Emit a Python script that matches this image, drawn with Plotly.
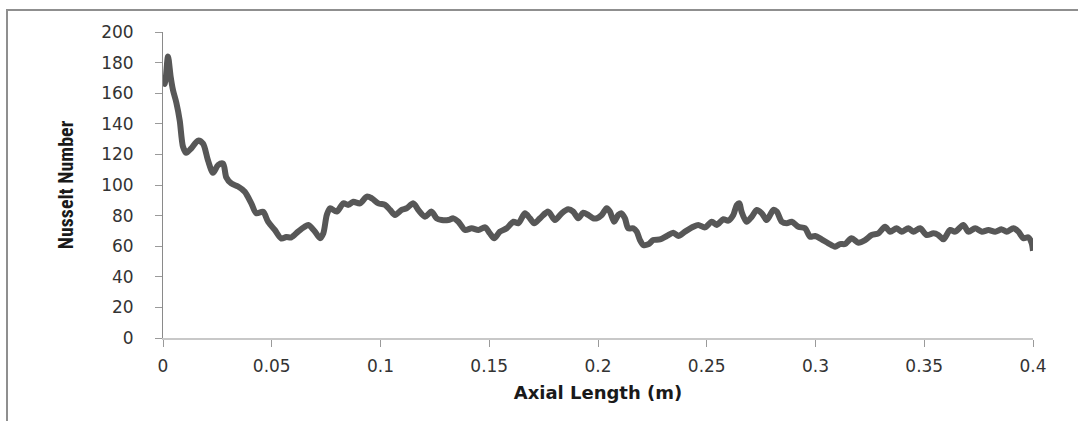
import plotly.graph_objects as go

# Axial position (m) and Nusselt number
axial_length = [
    0.0, 0.0008, 0.0023, 0.0035, 0.0046, 0.0061, 0.0077, 0.0092, 0.0107, 0.0130,
    0.0161, 0.0184, 0.0207, 0.0230, 0.0253, 0.0276, 0.0291, 0.0314, 0.0345, 0.0376,
    0.0406, 0.0429, 0.0460, 0.0483, 0.0514, 0.0544, 0.0567, 0.0590, 0.0621, 0.0651,
    0.0668, 0.0699, 0.0722, 0.0737, 0.0753, 0.0768, 0.0799, 0.0829, 0.0852, 0.0875,
    0.0906, 0.0937, 0.0960, 0.0990, 0.1021, 0.1044, 0.1067, 0.1097, 0.1120, 0.1151,
    0.1174, 0.1205, 0.1235, 0.1258, 0.1281, 0.1312, 0.1335, 0.1358, 0.1389, 0.1419,
    0.1450, 0.1481, 0.1503, 0.1523, 0.1549, 0.1580, 0.1611, 0.1634, 0.1664, 0.1687,
    0.1707, 0.1733, 0.1771, 0.1802, 0.1833, 0.1863, 0.1886, 0.1909, 0.1932, 0.1955,
    0.1978, 0.1994, 0.2017, 0.2040, 0.2055, 0.2074, 0.2093, 0.2108, 0.2124, 0.2139,
    0.2162, 0.2178, 0.2193, 0.2208, 0.2231, 0.2254, 0.2285, 0.2316, 0.2346, 0.2369,
    0.2400, 0.2438, 0.2461, 0.2492, 0.2523, 0.2546, 0.2576, 0.2599, 0.2622, 0.2638,
    0.2650, 0.2660, 0.2683, 0.2707, 0.2730, 0.2753, 0.2776, 0.2806, 0.2822, 0.2845,
    0.2868, 0.2891, 0.2921, 0.2952, 0.2975, 0.2998, 0.3028, 0.3059, 0.3090, 0.3113,
    0.3136, 0.3166, 0.3197, 0.3228, 0.3258, 0.3289, 0.3320, 0.3343, 0.3373, 0.3396,
    0.3427, 0.3450, 0.3481, 0.3511, 0.3542, 0.3565, 0.3588, 0.3619, 0.3642, 0.3680,
    0.3703, 0.3734, 0.3765, 0.3795, 0.3826, 0.3857, 0.3879, 0.3910, 0.3933, 0.3956,
    0.3979, 0.3994, 0.4000,
]
nusselt_number = [
    168, 166, 184, 171, 162, 154, 142, 125, 121, 124,
    129, 127, 116, 108, 113, 114, 105, 101, 99, 95.6,
    88, 81.5, 82.5, 76, 70.6, 65, 66, 65.8, 69.5, 72.7,
    73.9, 69.5, 65.2, 68.4, 80.4, 84.8, 82.6, 88, 87, 89,
    88, 92.4, 91.3, 88, 87, 83.7, 80.4, 83.7, 84.8, 88,
    83.7, 79.3, 82.6, 78.2, 77.1, 77.1, 78.2, 76, 70.6, 71.7,
    70.6, 72.3, 68.4, 65.2, 69.5, 71.7, 76, 75, 81.5, 78.2,
    75, 78.2, 82.6, 77.1, 81.5, 84.1, 82.6, 78.2, 81.9, 80.4,
    78.2, 78.2, 80.4, 84.8, 82.6, 76, 80.4, 81.5, 78.2, 71.7,
    71.7, 69.5, 64, 60.8, 61.2, 64, 64.5, 66.7, 68.8, 66.7,
    69.5, 72.7, 73.9, 72.3, 76, 73.9, 77.6, 76.7, 80.4, 86.9,
    88, 82.6, 76, 79.3, 83.7, 81.5, 77.1, 83.7, 82.6, 76,
    75, 76, 72.7, 71.7, 66.2, 66.7, 64.5, 61.9, 59.7, 61.4,
    61.4, 65.2, 62.3, 64, 67.3, 68.4, 72.7, 69.5, 71.7, 69.5,
    71.7, 69.5, 71.7, 67.3, 68.4, 67.3, 64.5, 70.6, 69.5, 73.9,
    69.5, 71.7, 69.5, 70.6, 69.5, 71, 69.5, 71.7, 69.5, 65.2,
    65.8, 61.9, 57,
]

x_ticks = [0, 0.05, 0.1, 0.15, 0.2, 0.25, 0.3, 0.35, 0.4]
x_tick_labels = ["0", "0.05", "0.1", "0.15", "0.2", "0.25", "0.3", "0.35", "0.4"]
y_ticks = [0, 20, 40, 60, 80, 100, 120, 140, 160, 180, 200]

W, H = 1078, 421
L, R, T, B = 163, 45, 32, 83
pw, ph = W - L - R, H - T - B

fig = go.Figure()
fig.add_trace(go.Scatter(
    x=axial_length, y=nusselt_number, mode="lines",
    line=dict(color="#575757", width=6, shape="spline", smoothing=0.8),
    showlegend=False, hoverinfo="x+y",
))

tick_font = dict(family="DejaVu Sans, Verdana, sans-serif", size=17, color="#333333")

fig.update_layout(
    width=W, height=H,
    margin=dict(l=L, r=R, t=T, b=B, pad=0),
    paper_bgcolor="white", plot_bgcolor="white",
    xaxis=dict(
        range=[0, 0.4], tickvals=x_ticks, ticktext=x_tick_labels,
        showgrid=False, zeroline=False,
        showline=True, linecolor="#c8c8c8", linewidth=2,
        ticks="outside", ticklen=7, tickcolor="#9a9a9a", tickwidth=1,
        tickfont=tick_font, ticklabelstandoff=5,
        title=dict(text="<b>Axial Length (m)</b>",
                   font=dict(family="DejaVu Sans, sans-serif", size=18, color="#1a1a1a"),
                   standoff=11),
    ),
    yaxis=dict(
        range=[0, 200], tickvals=y_ticks,
        showgrid=False, zeroline=False,
        showline=True, linecolor="#8a8a8a", linewidth=1,
        ticks="outside", ticklen=7, tickcolor="#9a9a9a", tickwidth=1,
        tickfont=tick_font, ticklabelstandoff=18,
        title=dict(text="<b>Nusselt Number</b>",
                   font=dict(family="Roboto Condensed, Liberation Sans Narrow, Roboto, sans-serif",
                             size=20, color="#1a1a1a"),
                   standoff=22),
    ),
)

# outer chart frame (grey border of the original chart area)
def px_x(p):
    return (p - L) / pw

def px_y(p):
    return (H - B - p) / ph

fig.add_shape(type="rect", xref="paper", yref="paper",
              x0=px_x(7), x1=px_x(1095), y0=px_y(10), y1=px_y(440),
              line=dict(color="#8f8f8f", width=2), fillcolor="rgba(0,0,0,0)",
              layer="below")

fig.write_html("out.html")
